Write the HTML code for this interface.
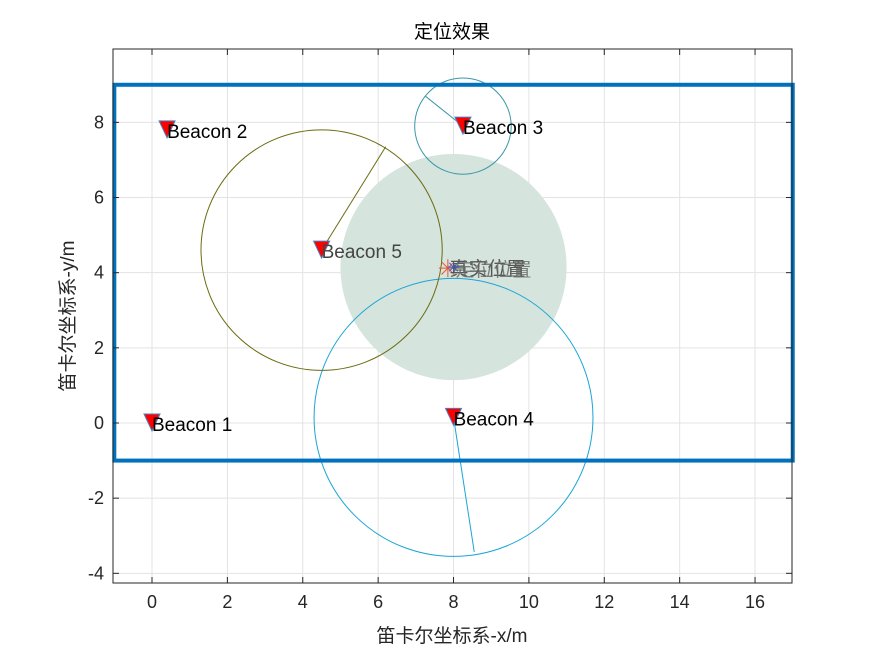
<!DOCTYPE html>
<html><head><meta charset="utf-8"><style>
body{margin:0;background:#fff;}
svg text{font-family:"Liberation Sans","Noto Sans CJK SC",sans-serif;}
</style></head><body>
<svg id="c" width="875" height="656"></svg>
<script>
const xT=[0,2,4,6,8,10,12,14,16];
const yT=[-4,-2,0,2,4,6,8];
const names=["Beacon 1","Beacon 2","Beacon 3","Beacon 4","Beacon 5"];
const bx=[0,0.4,8.25,8.0,4.5];
const by=[0,7.8,7.9,0.15,4.6];
const cIdx=[2,3,4];
const cR=[1.28,3.7,3.2];
const cCol=["#3a98a8","#1aa5d6","#6b6b10"];
const eX=[7.25,8.55,6.2];
const eY=[8.7,-3.43,7.35];
const shadeX=8, shadeY=4.15, shadeR=3.0;
const estX=7.85, estY=4.12, trueX=8.0, trueY=4.15;
const X0=152,SX=37.69,Y0=423,SY=37.58;
const sx=v=>X0+v*SX, sy=v=>Y0-v*SY;
const svg=document.getElementById('c');
const NS="http://www.w3.org/2000/svg";
function mk(t,a,p){const e=document.createElementNS(NS,t);for(const k in a)e.setAttribute(k,a[k]);(p||svg).appendChild(e);return e;}
const L=113,R=792,T=49,B=583;
const g=mk('g',{});


xT.forEach(v=>mk('line',{x1:sx(v),x2:sx(v),y1:T,y2:B,stroke:'#e3e3e3'},g));
yT.forEach(v=>mk('line',{x1:L,x2:R,y1:sy(v),y2:sy(v),stroke:'#e3e3e3'},g));
const sh=mk('circle',{cx:sx(shadeX),cy:sy(shadeY),r:shadeR*SX,fill:'#d5e4dc'});


cIdx.forEach((b,i)=>{
 const c=mk('ellipse',{cx:sx(bx[b]),cy:sy(by[b]),rx:cR[i]*SX,ry:cR[i]*SY,fill:'none',stroke:cCol[i],'stroke-width':1});
 
 
 const l=mk('line',{x1:sx(bx[b]),y1:sy(by[b]),x2:sx(eX[i]),y2:sy(eY[i]),stroke:cCol[i]});
 
 
});
const rect=mk('rect',{x:sx(-1),y:sy(9),width:sx(17)-sx(-1),height:sy(-1)-sy(9),fill:'none',stroke:'#0072bd','stroke-width':4});


names.forEach((n,i)=>{
 const x=sx(bx[i]),y=sy(by[i]);
 const p=mk('polygon',{points:`${x-8},${y-9} ${x+8},${y-9} ${x},${y+8}`,fill:'#ff0000',stroke:'#4a7fc0','stroke-width':1});
 
 
 const t=mk('text',{x:x,y:y+8,'font-size':19,fill:i==4?'#444':'#000'});t.textContent=n;
 
 
});
const ex=sx(estX),ey=sy(estY);
for(let a=0;a<4;a++){const an=a*Math.PI/4;mk('line',{x1:ex-9*Math.cos(an),y1:ey-9*Math.sin(an),x2:ex+9*Math.cos(an),y2:ey+9*Math.sin(an),stroke:'#e8542e'});}
const tx=sx(trueX),ty=sy(trueY);
for(let a=0;a<4;a++){const an=a*Math.PI/4;mk('line',{x1:tx-6*Math.cos(an),y1:ty-6*Math.sin(an),x2:tx+6*Math.cos(an),y2:ty+6*Math.sin(an),stroke:'#3b5bdb'});}
const t1=mk('text',{x:tx-4,y:ty+8,'font-size':19,fill:'#555'});t1.textContent='真实位置';

const t2=mk('text',{x:tx+2,y:ty+9,'font-size':19,fill:'#666','opacity':0.8});t2.textContent='定位位置';

mk('rect',{x:L,y:T,width:R-L,height:B-T,fill:'none',stroke:'#262626'});
xT.forEach(v=>{mk('line',{x1:sx(v),x2:sx(v),y1:B,y2:B-6,stroke:'#262626'});mk('line',{x1:sx(v),x2:sx(v),y1:T,y2:T+6,stroke:'#262626'});
 const t=mk('text',{x:sx(v),y:B+25,'font-size':18,'text-anchor':'middle',fill:'#262626'});t.textContent=v;
 });
yT.forEach(v=>{mk('line',{x1:L,x2:L+6,y1:sy(v),y2:sy(v),stroke:'#262626'});mk('line',{x1:R,x2:R-6,y1:sy(v),y2:sy(v),stroke:'#262626'});
 const t=mk('text',{x:L-9,y:sy(v)+6,'font-size':18,'text-anchor':'end',fill:'#262626'});t.textContent=v;
 });
const tt=mk('text',{x:452,y:38,'font-size':19,'text-anchor':'middle',fill:'#000'});tt.textContent='定位效果';

const xl=mk('text',{x:452,y:642,'font-size':19,'text-anchor':'middle',fill:'#262626'});xl.textContent='笛卡尔坐标系-x/m';

const yl=mk('text',{x:0,y:0,'font-size':19,'text-anchor':'middle',fill:'#262626',transform:'translate(74,316) rotate(-90)'});yl.textContent='笛卡尔坐标系-y/m';

</script>
</body></html>
